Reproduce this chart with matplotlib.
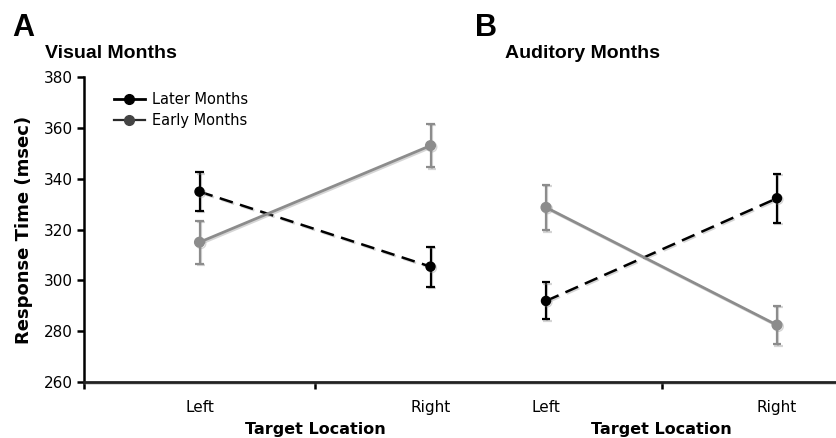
import numpy as np
import matplotlib
matplotlib.use('Agg')
import matplotlib.pyplot as plt
from matplotlib.lines import Line2D
from matplotlib import patheffects as pe

# values
categories = ['Left', 'Right']
panel_titles = ['Visual Months', 'Auditory Months']
panel_letters = ['A', 'B']

later_visual = [334.9, 305.4]
later_visual_err = [7.6, 7.9]
early_visual = [315.0, 353.0]
early_visual_err = [8.5, 8.5]

later_auditory = [291.9, 332.3]
later_auditory_err = [7.3, 9.7]
early_auditory = [328.7, 282.4]
early_auditory_err = [9.0, 7.6]

yticks = [260, 280, 300, 320, 340, 360, 380]

# each panel is an excel-like category axis; panel B is shifted 1.5 categories
offsets = [0.0, 1.5]
later = [later_visual, later_auditory]
later_err = [later_visual_err, later_auditory_err]
early = [early_visual, early_auditory]
early_err = [early_visual_err, early_auditory_err]

black = '#000000'
grey = '#8c8c8c'

fig = plt.figure(figsize=(8.36, 4.38), dpi=100)
ax = fig.add_axes([84/836, 1 - 382/438, 1 - 84/836, (382 - 77)/438])

shadow = [pe.SimpleLineShadow(offset=(1, -1), shadow_color='#888888', alpha=0.35), pe.Normal()]

for k in range(2):
    x = np.arange(len(categories)) + 0.5 + offsets[k]
    ax.errorbar(x, later[k], yerr=later_err[k], color=black, ls=(0, (5.5, 3)),
                lw=1.8, marker='o', ms=6.5, capsize=3, elinewidth=1.6, capthick=1.6,
                zorder=3, path_effects=shadow)
    ax.errorbar(x, early[k], yerr=early_err[k], color=grey, ls='-',
                lw=2.0, marker='o', ms=7, capsize=3, elinewidth=1.6, capthick=1.6,
                zorder=4, path_effects=shadow)

ax.set_ylim(260, 380)
ax.set_xlim(0, (836 - 84) / 231)
ax.set_yticks(yticks)

# major ticks: category boundaries, minor ticks: category names
ax.set_xticks([0, 1, 2.5])
ax.set_xticklabels([])
minor_pos = [c + 0.5 + o for o in offsets for c in range(len(categories))]
ax.set_xticks(minor_pos, minor=True)
ax.set_xticklabels(categories * 2, minor=True, fontsize=11, family='DejaVu Sans')
ax.tick_params(axis='x', which='minor', length=0, pad=13)
ax.tick_params(axis='x', which='major', length=5, width=1.8, direction='out')
ax.tick_params(axis='y', length=5, width=1.8, direction='out', labelsize=11, pad=3)
for lab in ax.get_yticklabels():
    lab.set_family('DejaVu Sans')

for s in ['top', 'right']:
    ax.spines[s].set_visible(False)
ax.spines['left'].set_linewidth(1.8)
ax.spines['bottom'].set_linewidth(2.0)
ax.spines['bottom'].set_color('#222222')
ax.spines['bottom'].set_path_effects(shadow)

ax.set_ylabel('Response Time (msec)', fontsize=13, fontweight='bold', family='DejaVu Sans',
              labelpad=8)

for k in range(2):
    mid = 1.0 + offsets[k]
    ax.text(mid, -0.155, 'Target Location', transform=ax.get_xaxis_transform(),
            ha='center', va='center', fontsize=11.5, fontweight='bold', family='DejaVu Sans')

# panel letters and titles
fig.text(12/836, 1 - 28/438, panel_letters[0], fontsize=22, fontweight='bold',
         family='Liberation Sans', va='center', ha='left')
fig.text(45/836, 1 - 54/438, panel_titles[0], fontsize=14, fontweight='bold',
         family='Liberation Sans', va='center', ha='left')
fig.text(475/836, 1 - 28/438, panel_letters[1], fontsize=22, fontweight='bold',
         family='Liberation Sans', va='center', ha='left')
fig.text(505/836, 1 - 54/438, panel_titles[1], fontsize=14, fontweight='bold',
         family='Liberation Sans', va='center', ha='left')

handles = [
    Line2D([], [], color=black, lw=2, marker='o', ms=7, mfc=black, mec=black),
    Line2D([], [], color='#2a2a2a', lw=1.6, marker='o', ms=7, mfc='#444444', mec='#444444'),
]
ax.legend(handles, ['Later Months', 'Early Months'], loc='upper left',
          bbox_to_anchor=(0.04, 0.95), frameon=False, fontsize=10.5,
          handlelength=2.1, handletextpad=0.5, labelspacing=0.4, borderaxespad=0,
          borderpad=0)

fig.savefig('out.png', dpi=100)
